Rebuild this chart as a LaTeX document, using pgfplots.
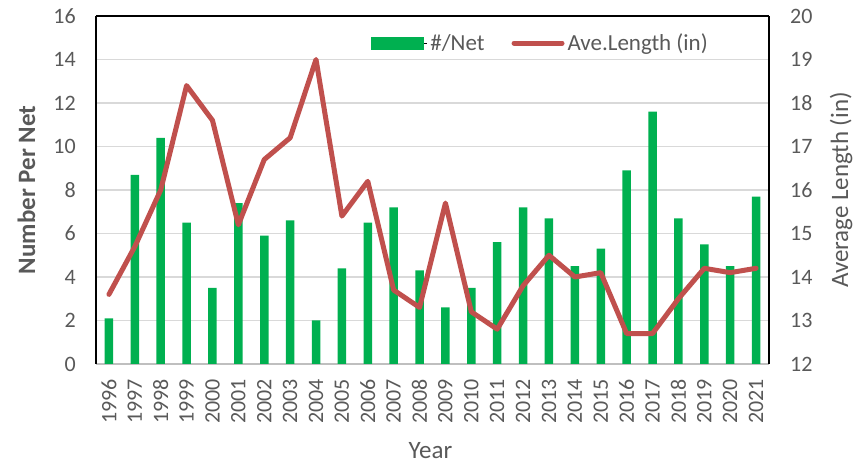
\documentclass[border=0pt]{standalone}
\usepackage{fontspec}
\setmainfont{Carlito}
\usepackage{pgfplots}
\pgfplotsset{compat=1.18}
\definecolor{bargreen}{HTML}{00B050}
\definecolor{linered}{HTML}{C0504D}
\definecolor{txtgray}{HTML}{595959}
\definecolor{gridgray}{HTML}{D9D9D9}
\definecolor{axgray}{HTML}{BFBFBF}
\pgfplotstableread{
year num len
1996 2.1 13.6
1997 8.7 14.7
1998 10.4 16.0
1999 6.5 18.4
2000 3.5 17.6
2001 7.4 15.2
2002 5.9 16.7
2003 6.6 17.2
2004 2.0 19.0
2005 4.4 15.4
2006 6.5 16.2
2007 7.2 13.7
2008 4.3 13.3
2009 2.6 15.7
2010 3.5 13.2
2011 5.6 12.8
2012 7.2 13.8
2013 6.7 14.5
2014 4.5 14.0
2015 5.3 14.1
2016 8.9 12.7
2017 11.6 12.7
2018 6.7 13.5
2019 5.5 14.2
2020 4.5 14.1
2021 7.7 14.2
}\datatable
\begin{document}
\begin{tikzpicture}[x=1pt,y=1pt]
\useasboundingbox (-96,-101) rectangle (771,364);
\pgfplotsset{
  common/.style={
    at={(0,0)}, anchor=south west, scale only axis,
    width=673pt, height=348pt,
    xmin=1995.5, xmax=2021.5,
    major tick length=0pt,
    /pgf/number format/assume math mode=true,
    /pgf/number format/1000 sep={},
    tick label style={font=\fontsize{22}{26}\selectfont, text=txtgray},
    label style={font=\fontsize{25}{30}\selectfont, text=txtgray},
  }
}
\begin{axis}[common,
  ymin=0, ymax=16, ytick={0,2,...,16},
  xtick={1996,...,2021},
  axis x line*=bottom, axis y line*=left,
  x axis line style={draw=axgray, line width=1.2pt, -},
  y axis line style={draw=black, line width=1.2pt, -},
  ymajorgrids, grid style={draw=gridgray, line width=1.5pt},
  xticklabel style={rotate=90, anchor=east, inner xsep=15pt},
  yticklabel style={inner xsep=20pt},
  ylabel={\bfseries Number Per Net},
  ylabel style={at={(axis description cs:-0.1033,0.5)}, anchor=center},
  xlabel={Year},
  xlabel style={at={(axis description cs:0.497,-0.272)}, anchor=base},
]
\addplot[ybar, bar width=8.5pt, fill=bargreen, draw=none] table[x=year, y=num] {\datatable};
\end{axis}
\begin{axis}[common,
  ymin=12, ymax=20, ytick={12,...,20},
  xtick=\empty,
  axis x line*=top, axis y line*=right,
  x axis line style={draw=black, line width=1.2pt, -},
  y axis line style={draw=black, line width=1.2pt, -},
  yticklabel style={inner xsep=21pt},
  ylabel={Average Length (in)},
  ylabel style={at={(axis description cs:1.107,0.5)}, anchor=center},
  legend columns=2,
  legend style={draw=none, fill=none, at={(axis description cs:0.661,0.922)}, anchor=center,
    font=\fontsize{23}{27}\selectfont, text=txtgray,
    /tikz/every even column/.append style={column sep=24pt},
    nodes={inner xsep=3pt}},
]
\addlegendimage{legend image code/.code={\path (0pt,0pt) -- (56pt,0pt); \fill[bargreen] (0pt,-6pt) rectangle (52pt,6pt);}}
\addlegendentry{\#/Net}
\addplot[linered, line width=5pt, line join=round, line cap=round,
  legend image code/.code={\draw[linered, line width=5pt, line cap=round] (2pt,0pt) -- (50pt,0pt);}]
  table[x=year, y=len] {\datatable};
\addlegendentry{Ave.Length (in)}
\end{axis}
\end{tikzpicture}
\end{document}
